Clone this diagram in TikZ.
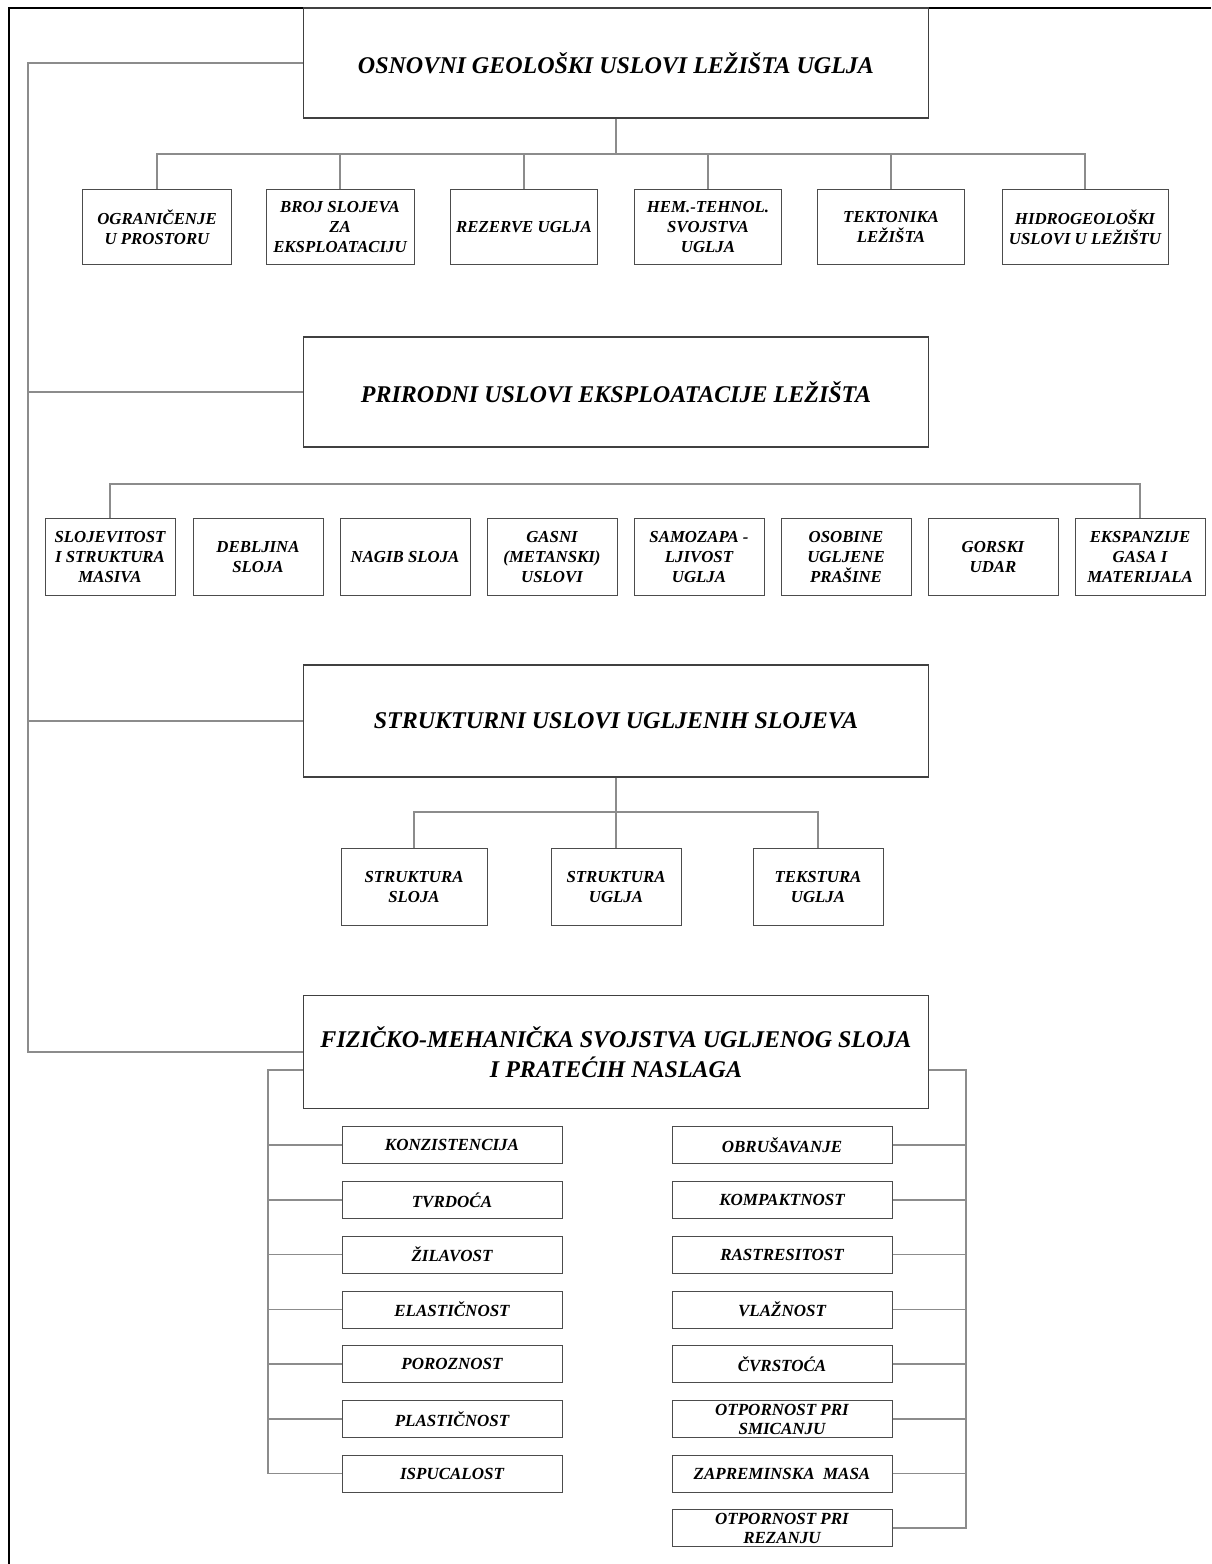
\documentclass[tikz,border=0pt]{standalone}
\usepackage{fontspec}
\setmainfont{Liberation Serif}
\begin{document}
\begin{tikzpicture}[x=1pt,y=-1pt,
  bigbox/.style={draw=black!75,line width=1.1pt,minimum width=625pt,minimum height=110pt,inner sep=2pt,align=center,
    font=\fontsize{24}{30}\selectfont\bfseries\itshape},
  smallbox/.style={draw=black!70,line width=1pt,minimum height=75pt,inner sep=1pt,align=center,
    font=\fontsize{16.8}{20}\selectfont\bfseries\itshape},
  propbox/.style={draw=black!70,line width=1pt,minimum width=220pt,minimum height=37pt,inner sep=0pt,align=center,
    font=\fontsize{17}{19}\selectfont\bfseries\itshape},
  conn/.style={draw=black!45,line width=1.4pt},
  frame/.style={draw=black,line width=2pt}]
\useasboundingbox (0,0) rectangle (1211,1564);
% frame
\draw[frame] (9,1564) -- (9,8) -- (1211,8);

% main boxes
\node[bigbox] (t1) at (616,63) {OSNOVNI GEOLOŠKI USLOVI LEŽIŠTA UGLJA};
\node[bigbox] (t2) at (616,392) {PRIRODNI USLOVI EKSPLOATACIJE LEŽIŠTA};
\node[bigbox,minimum height=112pt] (t3) at (616,721) {STRUKTURNI USLOVI UGLJENIH SLOJEVA};
\node[bigbox,minimum height=113pt] (t4) at (616,1052) {FIZIČKO-MEHANIČKA SVOJSTVA UGLJENOG SLOJA\\I PRATEĆIH NASLAGA};

% row 1
\node[smallbox,minimum width=149pt] (a1) at (157,227) {OGRANIČENJE\\U PROSTORU};
\node[smallbox,minimum width=148pt] (a2) at (340,227) {BROJ SLOJEVA\\ZA\\EKSPLOATACIJU};
\node[smallbox,minimum width=147pt] (a3) at (524,227) {REZERVE UGLJA};
\node[smallbox,minimum width=147pt] (a4) at (708,227) {HEM.-TEHNOL.\\SVOJSTVA\\UGLJA};
\node[smallbox,minimum width=147pt] (a5) at (891,227) {TEKTONIKA\\LEŽIŠTA};
\node[smallbox,minimum width=166pt] (a6) at (1085,227) {HIDROGEOLOŠKI\\USLOVI U LEŽIŠTU};

% row 2
\node[smallbox,minimum width=130pt,minimum height=77pt] (b1) at (110,557) {SLOJEVITOST\\I STRUKTURA\\MASIVA};
\node[smallbox,minimum width=130pt,minimum height=77pt] (b2) at (258,557) {DEBLJINA\\SLOJA};
\node[smallbox,minimum width=130pt,minimum height=77pt] (b3) at (405,557) {NAGIB SLOJA};
\node[smallbox,minimum width=130pt,minimum height=77pt] (b4) at (552,557) {GASNI\\(METANSKI)\\USLOVI};
\node[smallbox,minimum width=130pt,minimum height=77pt] (b5) at (699,557) {SAMOZAPA -\\LJIVOST\\UGLJA};
\node[smallbox,minimum width=130pt,minimum height=77pt] (b6) at (846,557) {OSOBINE\\UGLJENE\\PRAŠINE};
\node[smallbox,minimum width=130pt,minimum height=77pt] (b7) at (993,557) {GORSKI\\UDAR};
\node[smallbox,minimum width=130pt,minimum height=77pt] (b8) at (1140,557) {EKSPANZIJE\\GASA I\\MATERIJALA};

% row 3
\node[smallbox,minimum width=146pt,minimum height=77pt] (c1) at (414,887) {STRUKTURA\\SLOJA};
\node[smallbox,minimum width=130pt,minimum height=77pt] (c2) at (616,887) {STRUKTURA\\UGLJA};
\node[smallbox,minimum width=130pt,minimum height=77pt] (c3) at (818,887) {TEKSTURA\\UGLJA};

% property boxes
\node[propbox] (l1) at (452,1145) {KONZISTENCIJA};
\node[propbox] (l2) at (452,1200) {TVRDOĆA};
\node[propbox] (l3) at (452,1254.5) {ŽILAVOST};
\node[propbox] (l4) at (452,1309.5) {ELASTIČNOST};
\node[propbox] (l5) at (452,1364) {POROZNOST};
\node[propbox] (l6) at (452,1419) {PLASTIČNOST};
\node[propbox] (l7) at (452,1473.5) {ISPUCALOST};

\node[propbox] (r1) at (782,1145) {OBRUŠAVANJE};
\node[propbox] (r2) at (782,1200) {KOMPAKTNOST};
\node[propbox] (r3) at (782,1254.5) {RASTRESITOST};
\node[propbox] (r4) at (782,1309.5) {VLAŽNOST};
\node[propbox] (r5) at (782,1364) {ČVRSTOĆA};
\node[propbox] (r6) at (782,1419) {OTPORNOST PRI\\SMICANJU};
\node[propbox] (r7) at (782,1473.5) {ZAPREMINSKA\ \ MASA};
\node[propbox] (r8) at (782,1528) {OTPORNOST PRI\\REZANJU};

% left main bus
\coordinate (lb) at (28,63);
\draw[conn] (t1.west) -- (t1.west -| lb) -- (t4.west -| lb) -- (t4.west);
\draw[conn] (t2.west) -- (t2.west -| lb);
\draw[conn] (t3.west) -- (t3.west -| lb);

% row 1 connectors
\coordinate (bus1) at (616,154);
\draw[conn] (t1.south) -- (bus1);
\draw[conn] (a1.north) -- (a1.north |- bus1) -- (a6.north |- bus1) -- (a6.north);
\foreach \n in {a2,a3,a4,a5} \draw[conn] (\n.north) -- (\n.north |- bus1);

% row 2 connectors
\coordinate (bus2) at (616,484);
\draw[conn] (b1.north) -- (b1.north |- bus2) -- (b8.north |- bus2) -- (b8.north);

% row 3 connectors
\coordinate (bus3) at (616,812);
\draw[conn] (t3.south) -- (c2.north);
\draw[conn] (c1.north) -- (c1.north |- bus3) -- (c3.north |- bus3) -- (c3.north);

% property buses
\coordinate (lbus) at (268,1070);
\coordinate (rbus) at (966,1070);
\draw[conn] (t4.west |- lbus) -- (lbus) -- (lbus |- l7.west) -- (l7.west);
\foreach \n in {l1,l2,l3,l4,l5,l6} \draw[conn] (\n.west) -- (\n.west -| lbus);
\draw[conn] (t4.east |- rbus) -- (rbus) -- (rbus |- r8.east) -- (r8.east);
\foreach \n in {r1,r2,r3,r4,r5,r6,r7} \draw[conn] (\n.east) -- (\n.east -| rbus);
\end{tikzpicture}
\end{document}
